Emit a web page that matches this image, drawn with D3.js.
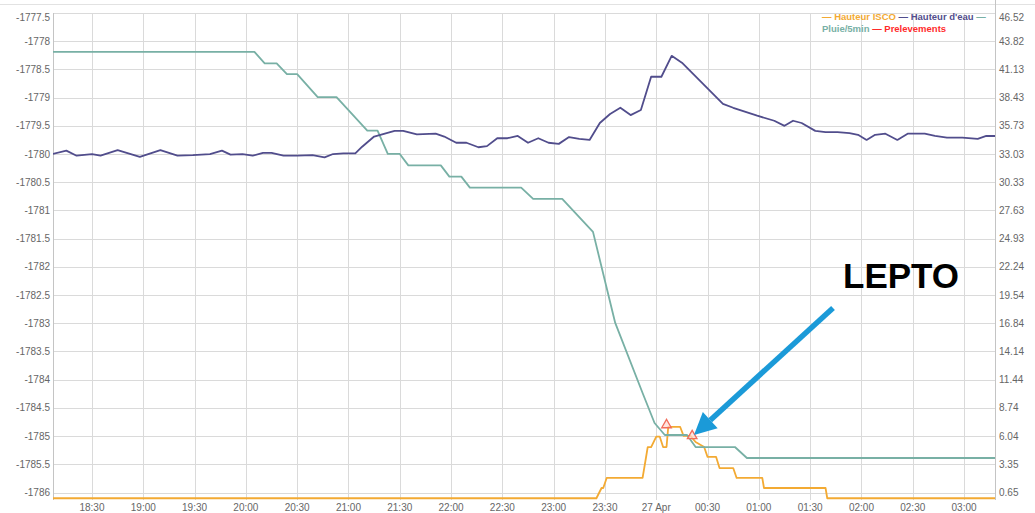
<!DOCTYPE html>
<html><head><meta charset="utf-8">
<script src="https://cdn.jsdelivr.net/npm/d3@7"></script>
<style>
body{margin:0;background:#fff;}
svg{display:block;font-family:"Liberation Sans",Arial,sans-serif;}
</style></head>
<body><svg id="c" width="1035" height="513"></svg>
<script>
// ---------- data ----------
const timeDomain = ["26 18:07:12", "27 03:18:06"];
const leftTicks = [-1786,-1785.5,-1785,-1784.5,-1784,-1783.5,-1783,-1782.5,-1782,-1781.5,-1781,-1780.5,-1780,-1779.5,-1779,-1778.5,-1778,-1777.5];
const rightTickLabels = ["0.65","3.35","6.04","8.74","11.44","14.14","16.84","19.54","22.24","24.93","27.63","30.33","33.03","35.73","38.43","41.13","43.82","46.52"];
const seriesNames = ["Hauteur ISCO","Hauteur d'eau","Pluie/5min","Prelevements"];

const hauteurEau = [["26 18:07",-1780.00],["26 18:15",-1779.94],["26 18:21",-1780.03],["26 18:30",-1780.00],["26 18:35",-1780.03],["26 18:45",-1779.93],["26 18:58",-1780.05],["26 19:10",-1779.93],["26 19:20",-1780.03],["26 19:29",-1780.02],["26 19:39",-1780.00],["26 19:46",-1779.94],["26 19:51",-1780.01],["26 19:58",-1780.00],["26 20:04",-1780.03],["26 20:10",-1779.98],["26 20:15",-1779.98],["26 20:22",-1780.03],["26 20:30",-1780.03],["26 20:39",-1780.02],["26 20:46",-1780.06],["26 20:51",-1780.00],["26 20:57",-1779.99],["26 21:04",-1779.99],["26 21:08",-1779.87],["26 21:15",-1779.69],["26 21:27",-1779.59],["26 21:32",-1779.59],["26 21:40",-1779.65],["26 21:51",-1779.64],["26 21:56",-1779.69],["26 22:03",-1779.80],["26 22:09",-1779.80],["26 22:16",-1779.88],["26 22:21",-1779.86],["26 22:27",-1779.72],["26 22:33",-1779.72],["26 22:39",-1779.68],["26 22:45",-1779.80],["26 22:51",-1779.72],["26 22:57",-1779.80],["26 23:03",-1779.82],["26 23:09",-1779.70],["26 23:15",-1779.73],["26 23:21",-1779.75],["26 23:27",-1779.45],["26 23:33",-1779.29],["26 23:39",-1779.18],["26 23:45",-1779.31],["26 23:51",-1779.22],["26 23:57",-1778.63],["27 00:03",-1778.63],["27 00:09",-1778.26],["27 00:15",-1778.38],["27 00:39",-1779.11],["27 00:45",-1779.18],["27 00:59",-1779.32],["27 01:09",-1779.41],["27 01:15",-1779.50],["27 01:20",-1779.41],["27 01:25",-1779.45],["27 01:33",-1779.59],["27 01:39",-1779.61],["27 01:46",-1779.61],["27 01:53",-1779.63],["27 01:58",-1779.66],["27 02:03",-1779.75],["27 02:08",-1779.66],["27 02:14",-1779.64],["27 02:21",-1779.75],["27 02:27",-1779.64],["27 02:37",-1779.64],["27 02:43",-1779.68],["27 02:50",-1779.71],["27 02:59",-1779.71],["27 03:08",-1779.73],["27 03:13",-1779.68],["27 03:19",-1779.68]];

const pluie = [["26 18:07",42.8],["26 20:05",42.8],["26 20:11",41.7],["26 20:18",41.7],["26 20:24",40.67],["26 20:30",40.67],["26 20:42",38.47],["26 20:53",38.47],["26 21:11",35.27],["26 21:17",35.27],["26 21:23",33.04],["26 21:30",33.04],["26 21:35",31.94],["26 21:54",31.94],["26 21:59",30.87],["26 22:06",30.87],["26 22:11",29.82],["26 22:41",29.82],["26 22:48",28.74],["26 23:05",28.74],["26 23:23",25.58],["26 23:36",16.87],["26 23:52",10.17],["26 23:59",7.3],["27 00:05",6.15],["27 00:18",6.15],["27 00:23",5.0],["27 00:46",5.0],["27 00:53",3.95],["27 03:19",3.95]];

const isco = [["26 18:07",0.1],["26 23:25",0.1],["26 23:28",1.08],["26 23:29",1.08],["26 23:31",2.04],["26 23:52",2.04],["26 23:54",4.0],["26 23:55",5.0],["26 23:57",5.0],["27 00:00",6.0],["27 00:02",6.0],["27 00:04",5.0],["27 00:06",5.0],["27 00:07",6.92],["27 00:14",6.92],["27 00:16",6.06],["27 00:20",6.06],["27 00:23",5.48],["27 00:28",5.0],["27 00:30",4.05],["27 00:35",4.05],["27 00:37",2.99],["27 00:45",2.99],["27 00:47",2.04],["27 01:02",2.04],["27 01:03",1.08],["27 01:39",1.08],["27 01:40",0.1],["27 03:19",0.1]];

const prelevements = [["27 00:06",7.11],["27 00:21",6.06]];

// ---------- setup ----------
const colors = {isco:"#f3aa33", eau:"#514d8c", pluie:"#78b0a5", prel:"#ff2b2b"};
const P = {l:53, r:995, t:13, b:500};
const parseT = s => {
  const f = s.split(":").length === 3 ? "%Y-%m-%d %H:%M:%S" : "%Y-%m-%d %H:%M";
  return d3.timeParse(f)("2021-04-" + s);
};
const svg = d3.select("#c");

const x = d3.scaleTime().domain(timeDomain.map(parseT)).range([P.l, P.r]);
const yL = d3.scaleLinear().domain([-1786, -1777.5]).range([492.5, P.t]);
const yR = d3.scaleLinear().domain([0.65, 46.52]).range([492.5, P.t]);

// outer top line
svg.append("line").attr("x1",0).attr("x2",1035).attr("y1",4.5).attr("y2",4.5).attr("stroke","#e2e2e2");

// clip
svg.append("clipPath").attr("id","pc").append("rect")
  .attr("x",P.l).attr("y",P.t-2).attr("width",P.r-P.l).attr("height",P.b-P.t+2);

// grid horizontal
const g = svg.append("g");
g.selectAll(".hg").data(leftTicks).join("line")
  .attr("x1",P.l).attr("x2",P.r)
  .attr("y1",d=>Math.round(yL(d))+0.5).attr("y2",d=>Math.round(yL(d))+0.5)
  .attr("stroke","#dadada");

// vertical grid
const xt = x.ticks(d3.timeMinute.every(30));
g.selectAll(".vg").data(xt).join("line")
  .attr("x1",d=>Math.round(x(d))+0.5).attr("x2",d=>Math.round(x(d))+0.5)
  .attr("y1",P.t).attr("y2",P.b)
  .attr("stroke","#dadada");

// axis lines
svg.append("line").attr("x1",P.l+0.5).attr("x2",P.l+0.5).attr("y1",P.t).attr("y2",P.b).attr("stroke","#c4c4c4");
svg.append("line").attr("x1",P.r+0.5).attr("x2",P.r+0.5).attr("y1",0).attr("y2",P.b).attr("stroke","#c4c4c4");

// x tick labels
const fmtX = d => (d.getHours()===0 && d.getMinutes()===0) ? d3.timeFormat("%-d %b")(d) : d3.timeFormat("%H:%M")(d);
svg.append("g").selectAll("text").data(xt).join("text")
  .attr("x",d=>x(d)).attr("y",511)
  .attr("text-anchor","middle").attr("font-size",10).attr("fill","#666")
  .text(fmtX);

// left labels
svg.append("g").selectAll("text").data(leftTicks).join("text")
  .attr("x",50).attr("y",d=>Math.max(yL(d),17)+3.5)
  .attr("text-anchor","end").attr("font-size",10).attr("fill","#666")
  .text(d=>String(d));

// right labels
const rightVals = rightTickLabels.map(Number);
svg.append("g").selectAll("text").data(rightTickLabels).join("text")
  .attr("x",999).attr("y",(d,i)=>Math.max(yR(rightVals[i]),17)+3.5)
  .attr("text-anchor","start").attr("font-size",10).attr("fill","#666")
  .text(d=>d);

// series
const plot = svg.append("g").attr("clip-path","url(#pc)");
const lineL = d3.line().x(d=>x(parseT(d[0]))).y(d=>yL(d[1]));
const lineR = d3.line().x(d=>x(parseT(d[0]))).y(d=>yR(d[1]));

plot.append("path").datum(isco).attr("d",lineR).attr("fill","none")
  .attr("stroke",colors.isco).attr("stroke-width",1.8).attr("stroke-linejoin","round");
plot.append("path").datum(pluie).attr("d",lineR).attr("fill","none")
  .attr("stroke",colors.pluie).attr("stroke-width",1.8).attr("stroke-linejoin","round");
plot.append("path").datum(hauteurEau).attr("d",lineL).attr("fill","none")
  .attr("stroke",colors.eau).attr("stroke-width",1.8).attr("stroke-linejoin","round");

const tri = d3.symbol().type(d3.symbolTriangle).size(40);
plot.selectAll(".pr").data(prelevements).join("path")
  .attr("d",tri)
  .attr("transform",d=>`translate(${x(parseT(d[0]))},${yR(d[1])})`)
  .attr("fill","#ffd9d2").attr("fill-opacity",0.7)
  .attr("stroke","#f26d5b").attr("stroke-width",1.3);

// legend
const leg = svg.append("g").attr("font-size",9.5).attr("font-weight","bold");
const l1 = leg.append("text").attr("x",822).attr("y",19.5);
l1.append("tspan").attr("fill",colors.isco).text("\u2014 " + seriesNames[0] + " ");
l1.append("tspan").attr("fill",colors.eau).text("\u2014 " + seriesNames[1] + " ");
l1.append("tspan").attr("fill",colors.pluie).text("\u2014");
const l2 = leg.append("text").attr("x",822).attr("y",31.5);
l2.append("tspan").attr("fill",colors.pluie).text(seriesNames[2] + " ");
l2.append("tspan").attr("fill",colors.prel).text("\u2014 " + seriesNames[3]);

// annotation
svg.append("text").attr("x",843).attr("y",288)
  .attr("font-size",35).attr("font-weight","bold").attr("fill","#000")
  .text("LEPTO");

const ax0 = 833, ay0 = 308, ax1 = 694, ay1 = 435;
const ang = Math.atan2(ay1-ay0, ax1-ax0);
const hl = 22, hw = 11;
const bx = ax1 - hl*Math.cos(ang), by = ay1 - hl*Math.sin(ang);
svg.append("line").attr("x1",ax0).attr("y1",ay0).attr("x2",bx).attr("y2",by)
  .attr("stroke","#1b9ad8").attr("stroke-width",5.5);
svg.append("polygon").attr("fill","#1b9ad8")
  .attr("points",[
    [ax1,ay1],
    [bx + hw*Math.sin(ang), by - hw*Math.cos(ang)],
    [bx - hw*Math.sin(ang), by + hw*Math.cos(ang)]
  ].map(p=>p.join(",")).join(" "));
</script>
</body></html>
